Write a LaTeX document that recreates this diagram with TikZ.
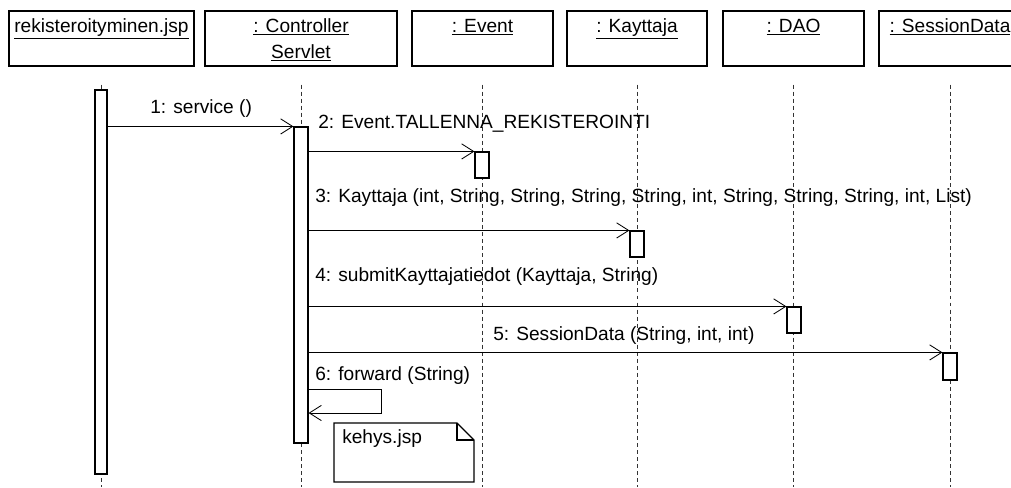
\documentclass[tikz,border=0pt]{standalone}
\usepackage{fontspec}
\setmainfont{Liberation Sans}
\usetikzlibrary{arrows.meta,fit}

\begin{document}
\begin{tikzpicture}[x=0.025cm,y=-0.025cm,>={Straight Barb[length=0.3cm,width=0.38cm]},
  obj box/.style={draw,line width=0.8pt,inner sep=0pt},
  obj name/.style={anchor=base,inner sep=0pt,font=\fontsize{13.6}{15}\selectfont},
  act bar/.style={draw,fill=white,line width=0.8pt,inner sep=0pt},
  life line/.style={draw=black!80,line width=0.6pt,dash pattern=on 2.8pt off 2.2pt,shorten <=0.45cm},
  msg/.style={->,line width=0.6pt},
  msg label/.style={anchor=base west,inner sep=0pt,font=\fontsize{13.6}{15}\selectfont}]
  \path[use as bounding box,fill=white] (0,0) rectangle (1011,487);
  \coordinate (bottom) at (0,487);

  % objects
  \node[obj box,fit={(9,11) (194,66)}] (jsp) {};
  \node[obj box,fit={(205,11) (397,66)}] (ctrl) {};
  \node[obj box,fit={(412,11) (553,66)}] (event) {};
  \node[obj box,fit={(567,11) (707,66)}] (kay) {};
  \node[obj box,fit={(723,11) (864,66)}] (dao) {};
  \node[obj box,fit={(879,11) (1021,66)}] (ses) {};
  \node[obj name] (jspname) at (jsp.north |- 0,32) {\underline{rekisteroityminen.jsp}};
  \node[obj name] (ctrlname) at (ctrl.north |- 0,32) {\underline{: Controller}};
  \node[obj name] (ctrlname2) at (ctrl.north |- 0,58) {\underline{Servlet}};
  \node[obj name] (eventname) at (event.north |- 0,32) {\underline{: Event}};
  \node[obj name] (kayname) at (kay.north |- 0,32) {\underline{: Kayttaja}};
  \node[obj name] (daoname) at (dao.north |- 0,32) {\underline{: DAO}};
  \node[obj name] (sesname) at (ses.north |- 0,32) {\underline{: SessionData}};

  % lifelines
  \foreach \o in {jsp,ctrl,event,kay,dao,ses}
    \draw[life line] (\o.south) -- (\o.south |- bottom);

  % activations
  \node[act bar,fit={(95,90) (107,474)}] (jspbar) {};
  \node[act bar,fit={(294,127) (308,443)}] (ctrlbar) {};
  \node[act bar,fit={(475,152) (489,178)}] (eventbar) {};
  \node[act bar,fit={(630,231) (644,257)}] (kaybar) {};
  \node[act bar,fit={(787,307) (801,333)}] (daobar) {};
  \node[act bar,fit={(943,353) (957,380)}] (sesbar) {};

  % messages
  \path[msg]
    (jspbar.east |- ctrlbar.north) edge (ctrlbar.north west)
    (ctrlbar.east |- eventbar.north) edge (eventbar.north west)
    (ctrlbar.east |- kaybar.north) edge (kaybar.north west)
    (ctrlbar.east |- daobar.north) edge (daobar.north west)
    (ctrlbar.east |- sesbar.north) edge (sesbar.north west);
  \coordinate (fwtop) at (381,389);
  \coordinate (fwbot) at (381,413);
  \draw[msg] (ctrlbar.east |- fwtop) -- (fwtop) -- (fwbot) -- (ctrlbar.east |- fwbot);

  \node[msg label] (m1) at (150,113) {1: service ()};
  \node[msg label] (m2) at (318,128) {2: Event.TALLENNA\_REKISTEROINTI};
  \node[msg label] (m3) at (315,202) {3: Kayttaja (int, String, String, String, String, int, String, String, String, int, List)};
  \node[msg label] (m4) at (315,281) {4: submitKayttajatiedot (Kayttaja, String)};
  \node[msg label] (m5) at (493,340) {5: SessionData (String, int, int)};
  \node[msg label] (m6) at (315,380) {6: forward (String)};

  % note
  \draw[line width=0.8pt] (334,423) -- (457,423) -- (474,440) -- (474,482) -- (334,482) -- cycle;
  \draw[line width=0.8pt] (457,423) -- (457,440) -- (474,440);
  \node[msg label] (kehys) at (342,443) {kehys.jsp};
\end{tikzpicture}
\end{document}
